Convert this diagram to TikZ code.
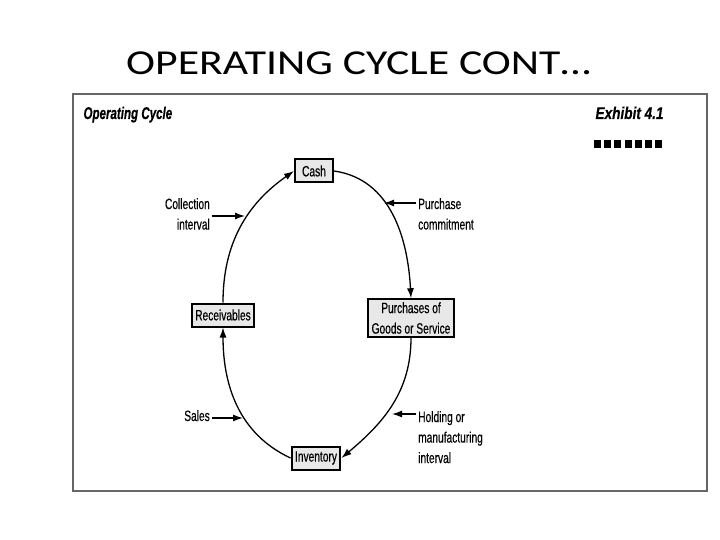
\documentclass[tikz,border=0pt]{standalone}
\usepackage{fontspec}
\setmainfont{Carlito}
\newfontfamily\cnd[FakeStretch=0.68,FakeBold=0.4]{Liberation Sans}
\newfontfamily\cndx[FakeStretch=0.8,FakeBold=0.4]{Liberation Sans}
\newfontfamily\wide[FakeStretch=1.25]{Carlito}
\usetikzlibrary{arrows.meta}

\tikzset{
	stage/.style={draw,line width=2pt,fill=gray!18,inner xsep=3.5pt,inner ysep=3pt,
		minimum width=38pt,minimum height=23pt,
		align=center,font=\cnd\fontsize{15}{20.5}\selectfont},
	lbl/.style={font=\cnd\fontsize{15}{20.5}\selectfont,inner sep=2pt},
	flow/.style={line width=1.3pt,-{Latex[length=10pt,width=7pt]}},
	head/.style={font=\fontsize{17}{18}\selectfont\bfseries\itshape,anchor=base west}
}

\begin{document}
\begin{tikzpicture}[x=1pt,y=-1pt]
	\useasboundingbox (0,0) rectangle (720,540);
	
	\node[anchor=base west,inner sep=0pt,font=\wide\fontsize{35}{40}\selectfont] (title) at (126,75) {OPERATING CYCLE CONT…};
	\draw[gray!80!black,line width=2pt] (73,94) rectangle (707,491);
	
	\node[head] (hdl) at (80,119) {\cnd Operating Cycle};
	\node[head] (hdr) at (592,119) {\cndx Exhibit 4.1};
	\foreach \i in {0,...,6}
		\fill (594+10.2*\i,140) rectangle ++(7,8);
	
	% the four stages
	\node[stage] (cash) at (314,171) {Cash};
	\node[stage] (purch) at (411,318) {Purchases of\\Goods or Service};
	\node[stage] (recv) at (223,315) {Receivables};
	\node[stage] (inv) at (316,458) {Inventory};
	
	\draw[flow] (cash.east) to[out=-8,in=93] (purch.north);
	\draw[flow] (purch.south) to[out=-90,in=40] (inv.east);
	\draw[flow] (inv.west) to[out=155,in=-90] (recv.south);
	\draw[flow] (recv.north) to[out=90,in=215] (cash.west);
	
	% side labels
	\node[lbl,align=right,anchor=north east] (coll) at (212,196) {Collection\\interval};
	\node[lbl,align=left,anchor=north west] (pc) at (416,196) {Purchase\\commitment};
	\node[lbl,anchor=base east] (sales) at (212,421) {Sales};
	\node[lbl,align=left,anchor=north west] (hold) at (416,409) {Holding or\\manufacturing\\interval};
	
	\coordinate (colltip) at (245,216);
	\coordinate (pctip) at (384,203);
	\coordinate (salestip) at (243,418);
	\coordinate (holdtip) at (392,414);
	
	\draw[flow] (coll.east |- colltip) -- (colltip);
	\draw[flow] (pc.west |- pctip) -- (pctip);
	\draw[flow] (sales.east |- salestip) -- (salestip);
	\draw[flow] (hold.west |- holdtip) -- (holdtip);
	
\end{tikzpicture}
\end{document}
